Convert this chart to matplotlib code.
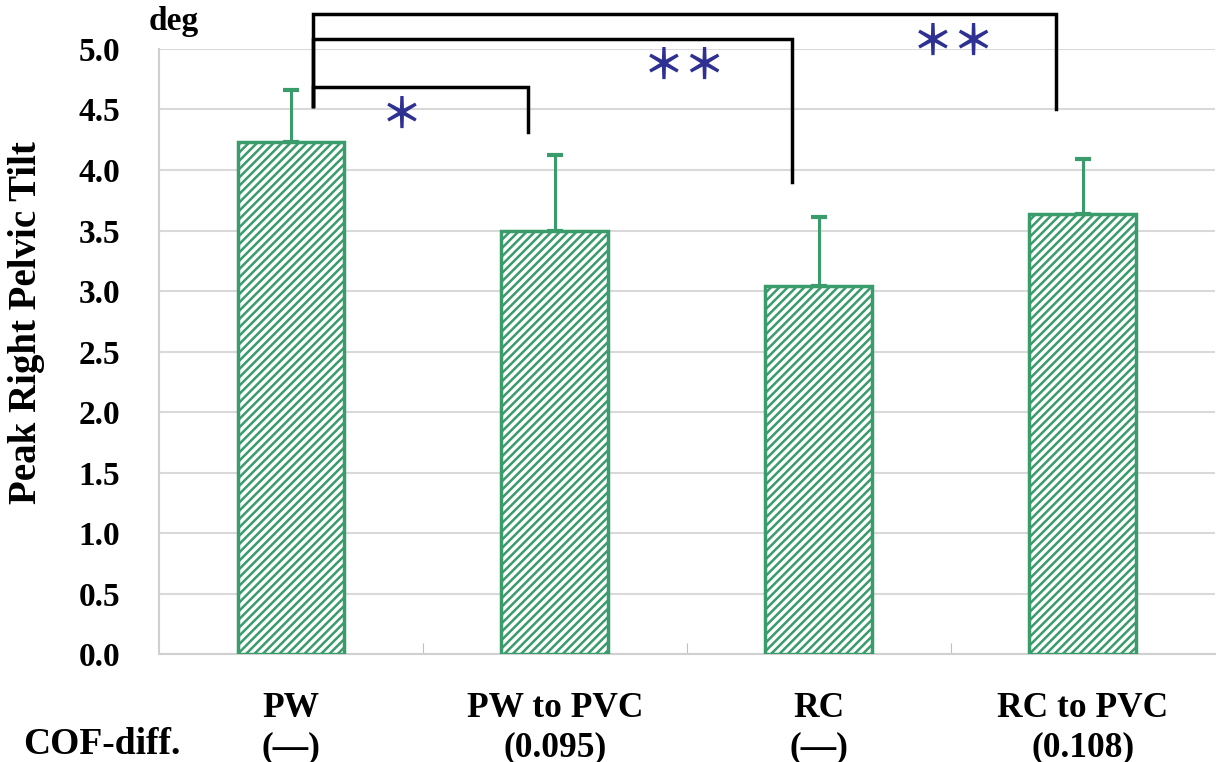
import numpy as np
import matplotlib
matplotlib.use("Agg")
import matplotlib.pyplot as plt
import matplotlib.transforms as mtransforms

# Data
categories = ["PW", "PW to PVC", "RC", "RC to PVC"]
cof_diff = ["(\u2014)", "(0.095)", "(\u2014)", "(0.108)"]
means = [4.23, 3.50, 3.04, 3.64]
sd_upper = [0.43, 0.62, 0.57, 0.45]

# significance brackets: (from, to, bracket height, right leg bottom, stars)
brackets = [
    (0, 1, 4.69, 4.31, "\uff0a"),
    (0, 2, 5.08, 3.90, "\uff0a\uff0a"),
    (0, 3, 5.29, 4.50, "\uff0a\uff0a"),
]
star_pos = [(0.42, 4.45), (1.49, 4.85), (2.51, 5.05)]

GREEN = "#3A9B6B"
STAR = "#2E3192"
plt.rcParams["hatch.color"] = GREEN
plt.rcParams["hatch.linewidth"] = 1.8
plt.rcParams["font.family"] = ["Liberation Serif", "DejaVu Serif"]
plt.rcParams["font.weight"] = "bold"

fig = plt.figure(figsize=(12.16, 7.62), dpi=100)
ax = fig.add_axes([0.1308, 0.1417, 0.868, 0.794])

x = np.arange(len(categories))
ax.bar(x, means, width=0.405, color="white", edgecolor=GREEN, linewidth=2.5,
       hatch="////", zorder=3)
ax.errorbar(x, means, yerr=[np.zeros(len(means)), sd_upper], fmt="none",
            ecolor=GREEN, elinewidth=2.2, capsize=6, capthick=3, zorder=2)

ax.set_xlim(-0.5, len(categories) - 0.5)
ax.set_ylim(0, 5)
ax.set_yticks(np.arange(0, 5.01, 0.5))
ax.set_yticklabels([f"{v:.1f}" for v in np.arange(0, 5.01, 0.5)], fontsize=24,
                   fontweight="bold")
ax.tick_params(axis="y", length=0, pad=28)
ax.set_xticks([0.5, 1.5, 2.5])
ax.set_xticklabels([])
ax.tick_params(axis="x", direction="in", length=8, color="#BFBFBF")
ax.grid(axis="y", color="#D9D9D9", linewidth=1.5, zorder=0)
for side in ["top", "right"]:
    ax.spines[side].set_visible(False)
for side in ["left", "bottom"]:
    ax.spines[side].set_color("#D0D0D0")
    ax.spines[side].set_linewidth(1.5)

# brackets
for (a, b, h, leg, s) in brackets:
    xa, xb = a + 0.085, b - 0.1
    ax.plot([xa, xa, xb, xb], [4.53, h, h, leg], color="black", lw=2.5,
            clip_on=False, zorder=4, solid_joinstyle="miter")
for (sx, sy), (_, _, _, _, s) in zip(star_pos, brackets):
    ax.text(sx, sy, s, color=STAR, fontsize=30, ha="center", va="center",
            family=["Noto Sans CJK SC", "DejaVu Sans"], fontweight="bold")

# category labels
trans = mtransforms.blended_transform_factory(ax.transData, ax.transAxes)
for i, (c, d) in enumerate(zip(categories, cof_diff)):
    ax.text(i, -0.09, c, transform=trans, ha="center", va="center",
            fontsize=25.5, fontweight="bold")
    ax.text(i, -0.155, d, transform=trans, ha="center", va="center",
            fontsize=25.5, fontweight="bold")
fig.text(0.084, 0.023, "COF-diff.", ha="center", va="center", fontsize=27,
         fontweight="bold")

fig.text(0.022, 0.577, "Peak Right Pelvic Tilt", rotation=90, ha="center",
         va="center", fontsize=28, fontweight="bold")
fig.text(0.143, 0.972, "deg", ha="center", va="center", fontsize=24,
         fontweight="bold")

fig.savefig("out.png", dpi=100)
